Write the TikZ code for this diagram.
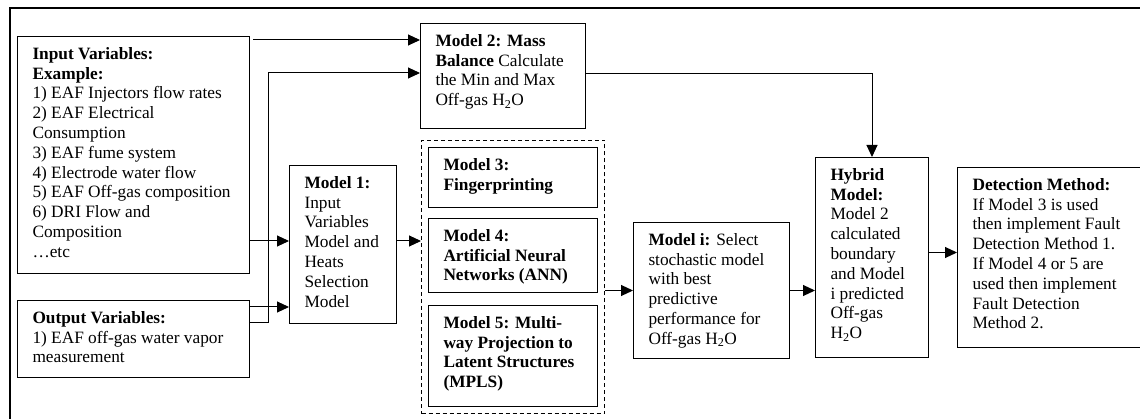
\documentclass[tikz,border=0pt]{standalone}
\usepackage{fontspec}
\setmainfont{Liberation Serif}
\usetikzlibrary{calc,arrows.meta}
\usetikzlibrary{positioning}
% text block of a box: width and height of the whole box in pt
\newcommand{\boxtext}[3]{\parbox[c][\dimexpr#2pt-18pt\relax][t]{\dimexpr#1pt-30pt\relax}{\raggedright\strut#3}}

\begin{document}
\begin{tikzpicture}[x=1pt,y=-1pt,
  blk/.style={draw, anchor=north west, inner xsep=15pt, inner ysep=9pt, line width=1pt,
    font=\fontsize{17.3}{19.8}\selectfont},
  arr/.style={-{Triangle[length=12pt,width=11pt]}, line width=1pt}]
\useasboundingbox (0,0) rectangle (1140,419);
% outer frame (runs off the page)
\draw[line width=1.2pt] (10,440) |- (1160,8);

\node[blk](in) at (17,36){\boxtext{232}{237}{\textbf{Input Variables:}\\ \textbf{Example:}\\
  1) EAF Injectors flow rates\\ 2) EAF Electrical\\ Consumption\\ 3) EAF fume system\\
  4) Electrode water flow\\ 5) EAF Off-gas composition\\ 6) DRI Flow and\\ Composition\\ \dots etc}};
\node[blk](out) at (17,300){\boxtext{232}{77}{\textbf{Output Variables:}\\ 1) EAF off-gas water vapor\\ measurement}};
\node[blk](m1) at (289,165){\boxtext{107}{158}{\textbf{Model 1:}\\ Input\\ Variables\\ Model and\\ Heats\\ Selection\\ Model}};
\node[blk](m2) at (420,23){\boxtext{165}{105}{\textbf{Model 2: Mass}\\ \textbf{Balance} Calculate\\ the Min and Max\\ Off-gas H\textsubscript{2}O}};
\node[draw, dashed, dash pattern=on 4pt off 3pt, line width=1pt, anchor=north west, inner sep=0pt,
  minimum width=183pt, minimum height=273pt](grp) at (421,140){};
\node[blk](m3) at (428,147){\boxtext{169}{60}{\textbf{Model 3:}\\ \textbf{Fingerprinting}}};
\node[blk](m4) at (428,218){\boxtext{169}{74}{\textbf{Model 4:}\\ \textbf{Artificial Neural}\\ \textbf{Networks (ANN)}}};
\node[blk](m5) at (428,305){\boxtext{169}{101}{\textbf{Model 5: Multi-}\\ \textbf{way Projection to}\\ \textbf{Latent Structures}\\ \textbf{(MPLS)}}};
\node[blk](mi) at (633,222){\boxtext{156}{136}{\textbf{Model i:} Select\\ stochastic model\\ with best\\ predictive\\ performance for\\ Off-gas H\textsubscript{2}O}};
\node[blk](hyb) at (815,157){\boxtext{113}{200}{\textbf{Hybrid}\\ \textbf{Model:}\\ Model 2\\ calculated\\ boundary\\ and Model\\ i predicted\\ Off-gas\\ H\textsubscript{2}O}};
\node[blk](det) at (957,167){\boxtext{200}{180}{\textbf{Detection Method:}\\ If Model 3 is used\\ then implement Fault\\ Detection Method 1.\\ If Model 4 or 5 are\\ used then implement\\ Fault Detection\\ Method 2.}};

% connectors
\coordinate (tap) at (253,40);
\coordinate (j1) at (268,73);
\coordinate (inR) at ($(in.north east)+(0,205)$);
\coordinate (outR) at ($(out.north east)+(0,7)$);
\coordinate (outS) at ($(out.north east)+(0,23)$);
\coordinate (m1R) at ($(m1.north east)+(0,76)$);
\draw[arr] (tap) -- (tap -| m2.west);
\draw[arr] (outS) -| (j1) -- (j1 -| m2.west);
\draw[arr] (inR) -- (inR -| m1.west);
\draw[arr] (outR) -- (outR -| m1.west);
\draw[arr] (m1R) -- (m1R -| grp.west);
\draw[arr] (mi.west -| grp.east) -- (mi.west);
\draw[arr] (mi.east) -- (mi.east -| hyb.west);
\draw[arr] ([yshift=2.5pt]m2.east) -| (hyb.north);
\draw[arr] ([yshift=5pt]hyb.east) -- ([yshift=5pt]hyb.east -| det.west);
\end{tikzpicture}
\end{document}
